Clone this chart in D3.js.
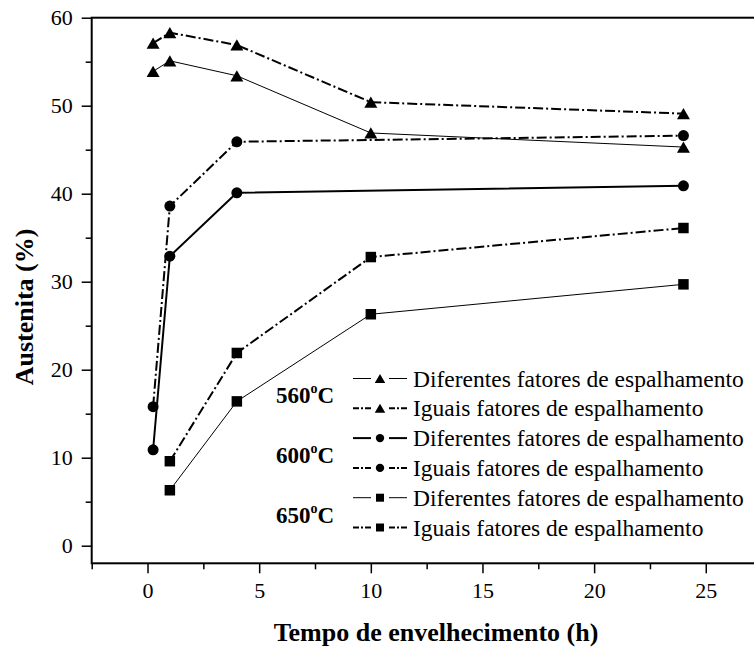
<!DOCTYPE html>
<html>
<head>
<meta charset="utf-8">
<script src="https://cdn.jsdelivr.net/npm/d3@7/dist/d3.min.js"></script>
<style>
  html, body { margin: 0; padding: 0; background: #fff; }
  svg text { font-family: 'Liberation Serif', 'Times New Roman', Times, serif !important; }
</style>
</head>
<body>
<svg id="chart" width="754" height="650"></svg>
<script>
// Aging time (h) for each temperature series
const hours560 = [0.25, 1, 4, 10, 24];
const hours600 = [0.25, 1, 4, 24];
const hours650 = [1, 4, 10, 24];

// Austenite fraction (%) — "Diferentes" and "Iguais" scattering factors
const dif560 = [53.9, 55.1, 53.4, 46.9, 45.3];
const igu560 = [57.1, 58.3, 56.9, 50.4, 49.1];
const dif600 = [10.9, 32.9, 40.1, 40.9];
const igu600 = [15.8, 38.6, 45.9, 46.6];
const dif650 = [6.3, 16.4, 26.3, 29.7];
const igu650 = [9.6, 21.9, 32.8, 36.1];

// Axis ticks
const xMajorTicks = [0, 5, 10, 15, 20, 25];
const xMinorTicks = [-2.5, 2.5, 7.5, 12.5, 17.5, 22.5, 27.5];
const yMajorTicks = [0, 10, 20, 30, 40, 50, 60];
const yMinorTicks = [5, 15, 25, 35, 45, 55];

// Legend text
const temperatures = ["560", "600", "650"];
const legendLabels = ["Diferentes fatores de espalhamento", "Iguais fatores de espalhamento"];

const FONT = "'Liberation Serif', 'Times New Roman', Times, serif";
const svg = d3.select("#chart").attr("font-family", FONT);
const plotLeft = 91.7, plotTop = 17.7, plotBottom = 563.3;

const x = d3.scaleLinear().domain([-2.5, 27.5]).range([plotLeft, plotLeft + 30 * 22.33]);
const y = d3.scaleLinear().domain([-2, 60]).range([plotBottom, plotTop]);

// Triangle centred on its bounding box
const triangleBox = {
  draw(ctx, size) {
    const s = Math.sqrt(size / (Math.sqrt(3) / 4));
    const h = s * Math.sqrt(3) / 2;
    ctx.moveTo(0, -h / 2);
    ctx.lineTo(s / 2, h / 2);
    ctx.lineTo(-s / 2, h / 2);
    ctx.closePath();
  }
};

const DASHDOT = "10,3,2,3";
const series = [
  { xs: hours560, ys: dif560, sym: triangleBox, size: 73, lw: 1, dash: null },
  { xs: hours560, ys: igu560, sym: triangleBox, size: 73, lw: 2, dash: DASHDOT },
  { xs: hours600, ys: dif600, sym: d3.symbolCircle, size: 95, lw: 2, dash: null },
  { xs: hours600, ys: igu600, sym: d3.symbolCircle, size: 95, lw: 2, dash: DASHDOT },
  { xs: hours650, ys: dif650, sym: d3.symbolSquare, size: 110, lw: 1, dash: null },
  { xs: hours650, ys: igu650, sym: d3.symbolSquare, size: 110, lw: 2, dash: DASHDOT }
];

// Frame (right side falls outside the view)
svg.append("rect")
  .attr("x", x(-2.5)).attr("y", y(60))
  .attr("width", x(27.5) - x(-2.5)).attr("height", y(-2) - y(60))
  .attr("fill", "none").attr("stroke", "#000").attr("stroke-width", 2);

// X axis
const xAxis = svg.append("g").attr("transform", `translate(0,${plotBottom})`);
xAxis.call(d3.axisBottom(x).tickValues(xMajorTicks).tickSize(10).tickSizeOuter(0).tickPadding(9).tickFormat(d3.format("d")));
xAxis.append("g").call(d3.axisBottom(x).tickValues(xMinorTicks).tickSize(6).tickSizeOuter(0).tickFormat(""));
xAxis.selectAll(".domain").remove();

// Y axis
const yAxis = svg.append("g").attr("transform", `translate(${plotLeft},0)`);
yAxis.call(d3.axisLeft(y).tickValues(yMajorTicks).tickSize(10).tickSizeOuter(0).tickPadding(9).tickFormat(d3.format("d")));
yAxis.append("g").call(d3.axisLeft(y).tickValues(yMinorTicks).tickSize(6).tickSizeOuter(0).tickFormat(""));
yAxis.selectAll(".domain").remove();

svg.selectAll("g").attr("font-family", FONT);
svg.selectAll(".tick line").attr("stroke", "#000").attr("stroke-width", 1.5);
svg.selectAll(".tick text")
  .attr("font-family", FONT)
  .attr("font-size", 22).attr("fill", "#000");

// Axis titles
svg.append("text")
  .attr("x", 436).attr("y", 641)
  .attr("text-anchor", "middle")
  .attr("font-family", FONT)
  .attr("font-size", 26).attr("font-weight", "bold")
  .text("Tempo de envelhecimento (h)");

svg.append("text")
  .attr("transform", "translate(33,307) rotate(-90)")
  .attr("text-anchor", "middle")
  .attr("font-family", FONT)
  .attr("font-size", 26).attr("font-weight", "bold")
  .text("Austenita (%)");

// Series lines and markers
const line = d3.line().x(d => x(d[0])).y(d => y(d[1]));
series.forEach(s => {
  const pts = s.xs.map((h, i) => [h, s.ys[i]]);
  svg.append("path")
    .datum(pts)
    .attr("d", line)
    .attr("fill", "none")
    .attr("stroke", "#000")
    .attr("stroke-width", s.lw)
    .attr("stroke-dasharray", s.dash);
  svg.append("g").selectAll("path")
    .data(pts).join("path")
    .attr("transform", d => `translate(${x(d[0])},${y(d[1])})`)
    .attr("d", d3.symbol(s.sym, s.size))
    .attr("fill", "#000");
});

// Legend
const legendRow0 = 378.5, legendStep = 29.8;
const legendMarkerSize = new Map([[triangleBox, 48], [d3.symbolCircle, 55], [d3.symbolSquare, 64]]);
series.forEach((s, i) => {
  const yy = legendRow0 + i * legendStep;
  const g = svg.append("g");
  [[353, 371], [389, 407]].forEach(([a, b]) => {
    g.append("line")
      .attr("x1", a).attr("x2", b).attr("y1", yy).attr("y2", yy)
      .attr("stroke", "#000").attr("stroke-width", s.lw)
      .attr("stroke-dasharray", s.dash ? "6,2,2,2" : null);
  });
  g.append("path")
    .attr("transform", `translate(380,${yy})`)
    .attr("d", d3.symbol(s.sym, legendMarkerSize.get(s.sym)))
    .attr("fill", "#000");
  g.append("text")
    .attr("x", 413).attr("y", yy + 8)
    .attr("font-family", FONT)
    .attr("font-size", 23.5)
    .text(legendLabels[i % 2]);
});

temperatures.forEach((t, k) => {
  const mid = legendRow0 + (2 * k + 0.5) * legendStep;
  const txt = svg.append("text")
    .attr("x", 276).attr("y", mid + 10)
    .attr("font-family", FONT)
    .attr("font-size", 23).attr("font-weight", "bold");
  txt.append("tspan").text(t);
  txt.append("tspan").attr("font-size", 14).attr("dy", -10).text("o");
  txt.append("tspan").attr("dy", 10).text("C");
});
</script>
</body>
</html>
